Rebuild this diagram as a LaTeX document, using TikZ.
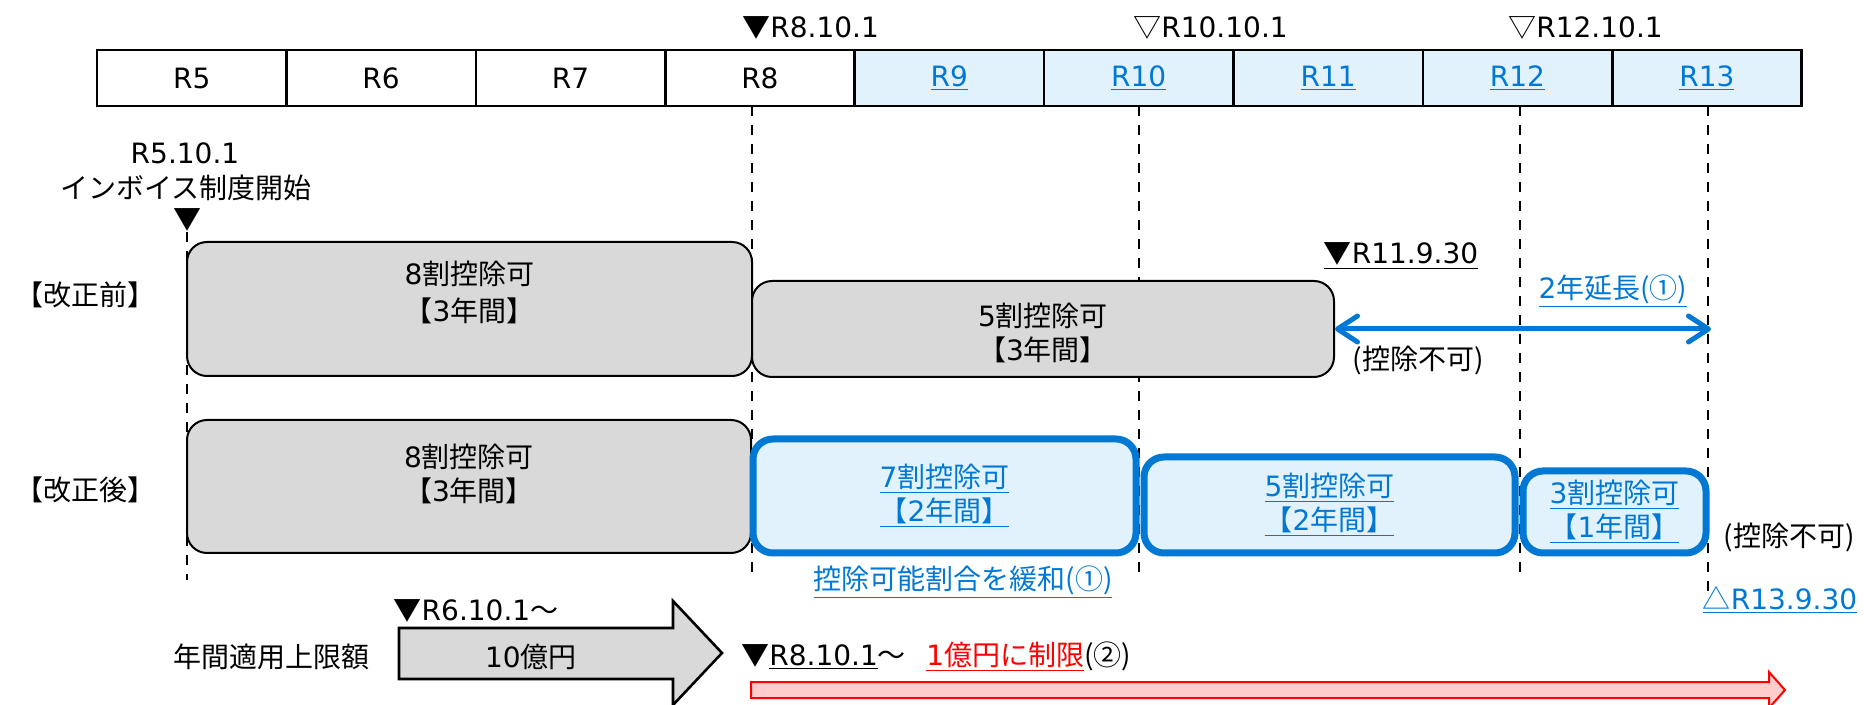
\documentclass[tikz,border=0pt]{standalone}
\usepackage{fontspec}
\setmainfont{Noto Sans CJK JP}
\newfontfamily\latfont{DejaVu Sans}
\newcommand{\lat}[1]{{\latfont #1}}
\usetikzlibrary{arrows.meta}

\definecolor{jblue}{RGB}{0,120,212}
\definecolor{jlight}{RGB}{225,242,253}
\definecolor{jgray}{RGB}{217,217,217}
\definecolor{jpink}{RGB}{255,204,204}

\tikzset{
  every node/.style={font=\fontsize{14}{17}\selectfont, inner sep=0pt},
  cell/.style={draw, line width=1.3pt, minimum width=94.7pt, minimum height=28pt},
  nextcell/.style={cell, fill=jlight, text=jblue},
  graybox/.style={draw, line width=1pt, fill=jgray, rounded corners=10pt},
  bluebox/.style={draw=jblue, line width=3.5pt, fill=jlight, text=jblue, rounded corners=10pt, align=center},
  boxtext/.style={align=center},
  guide/.style={dash pattern=on 5pt off 4.5pt, line width=1.2pt},
  bluetext/.style={text=jblue},
}

\begin{document}
\begin{tikzpicture}[x=0.5pt, y=-0.5pt]
        \useasboundingbox (0,0) rectangle (1864,705);

        % year table
        \foreach \n in {5,...,8}
            \node [cell] (c\n) at ({191.7+189.4*(\n-5)},78) {\lat{R\n}};
        \foreach \n in {9,...,13}
            \node [nextcell] (c\n) at ({191.7+189.4*(\n-5)},78) {\underline{\lat{R\n}}};

        \node [anchor=west] (m8) at (742,28) {▼\lat{R8.10.1}};
        \node [anchor=west] (m10) at (1133,28) {▽\lat{R10.10.1}};
        \node [anchor=west] (m12) at (1508,28) {▽\lat{R12.10.1}};

        \node (r5d) at (185,153) {\lat{R5.10.1}};
        \node (inv) at (186,188) {インボイス制度開始};
        \node (r5m) at (187,220) {▼};

        % guide lines
        \coordinate (gb) at (0,580);
        \coordinate (g8) at (752,106);
        \coordinate (g10) at (1139,106);
        \coordinate (g12) at (1520,106);
        \coordinate (g13) at (1708,106);
        \draw [guide] (r5m.south) -- (r5m.south|-gb);
        \draw [guide] (g8) -- (g8|-gb);
        \draw [guide] (g10) -- (g10|-gb);
        \draw [guide] (g12) -- (g12|-gb);
        \draw [guide] (g13) -- ++(0,486);

        \node (pre) at (86,295) {【改正前】};
        \node (post) at (86,490) {【改正後】};

        % before
        \node [graybox, minimum width=282.5pt, minimum height=67pt] (pre8) at (469.5,309) {};
        \node [boxtext] (pre8t) at ([yshift=8.5pt]pre8.center) {\lat{8}割控除可\\[1.5pt]【\lat{3}年間】};
        \node [graybox, minimum width=291pt, minimum height=48pt] (pre5) at (1043,329) {};
        \node [boxtext] (pre5t) at ([yshift=-2pt]pre5.center) {\lat{5}割控除可\\【\lat{3}年間】};
        \node (r11) at (1401,256) {\underline{▼\lat{R11.9.30}}};
        \node [bluetext] (ext) at (1613,291) {\underline{\lat{2}年延長(①)}};
        \node (nopre) at (1418,360) {(控除不可)};
        \coordinate (extend) at (1711,329);
        \draw [jblue, line width=2.5pt, {Straight Barb[length=10pt, width=13pt, round]}-{Straight Barb[length=10pt, width=13pt, round]}] (pre5.east) -- (extend);

        % after
        \node [graybox, minimum width=282pt, minimum height=66.5pt] (post8) at (469,486.5) {};
        \node [boxtext] (post8t) at ([yshift=6.5pt]post8.center) {\lat{8}割控除可\\【\lat{3}年間】};
        \node [bluebox, minimum width=191.5pt, minimum height=57pt] (post7) at (944.5,496) {\underline{\lat{7}割控除可}\\\underline{【\lat{2}年間】}};
        \node [bluebox, minimum width=185.5pt, minimum height=48pt] (post5) at (1329.5,505) {\underline{\lat{5}割控除可}\\\underline{【\lat{2}年間】}};
        \node [bluebox, minimum width=91.5pt, minimum height=41pt] (post3) at (1614.5,512) {\underline{\lat{3}割控除可}\\\underline{【\lat{1}年間】}};
        \node [bluetext] (relax) at (963,582) {\underline{控除可能割合を緩和(①)}};
        \node (nopost) at (1789,537) {(控除不可)};
        \node [bluetext] (r13) at (1780,600) {\underline{△\lat{R13.9.30}}};

        % annual cap
        \node (cap) at (271,657) {年間適用上限額};
        \node (r6) at (476,611) {▼\lat{R6.10.1}～};
        \draw [line width=1.3pt, fill=jgray] (399,628) -- (673,628) -- (673,601) -- (722,653) -- (673,705) -- (673,679) -- (399,679) -- cycle;
        \node (ten) at (531,657) {\lat{10}億円};
        \node [anchor=west] (r8b) at (741,657) {▼\underline{\lat{R8.10.1}}～};
        \node [anchor=west] (lim) at (926,657) {\textcolor{red}{\underline{\lat{1}億円に制限}}(②)};
        \draw [red, line width=1pt, fill=jpink] (751,682) -- (1769,682) -- (1769,672) -- (1785,690) -- (1769,708) -- (1769,698) -- (751,698) -- cycle;
    \end{tikzpicture}
\end{document}
